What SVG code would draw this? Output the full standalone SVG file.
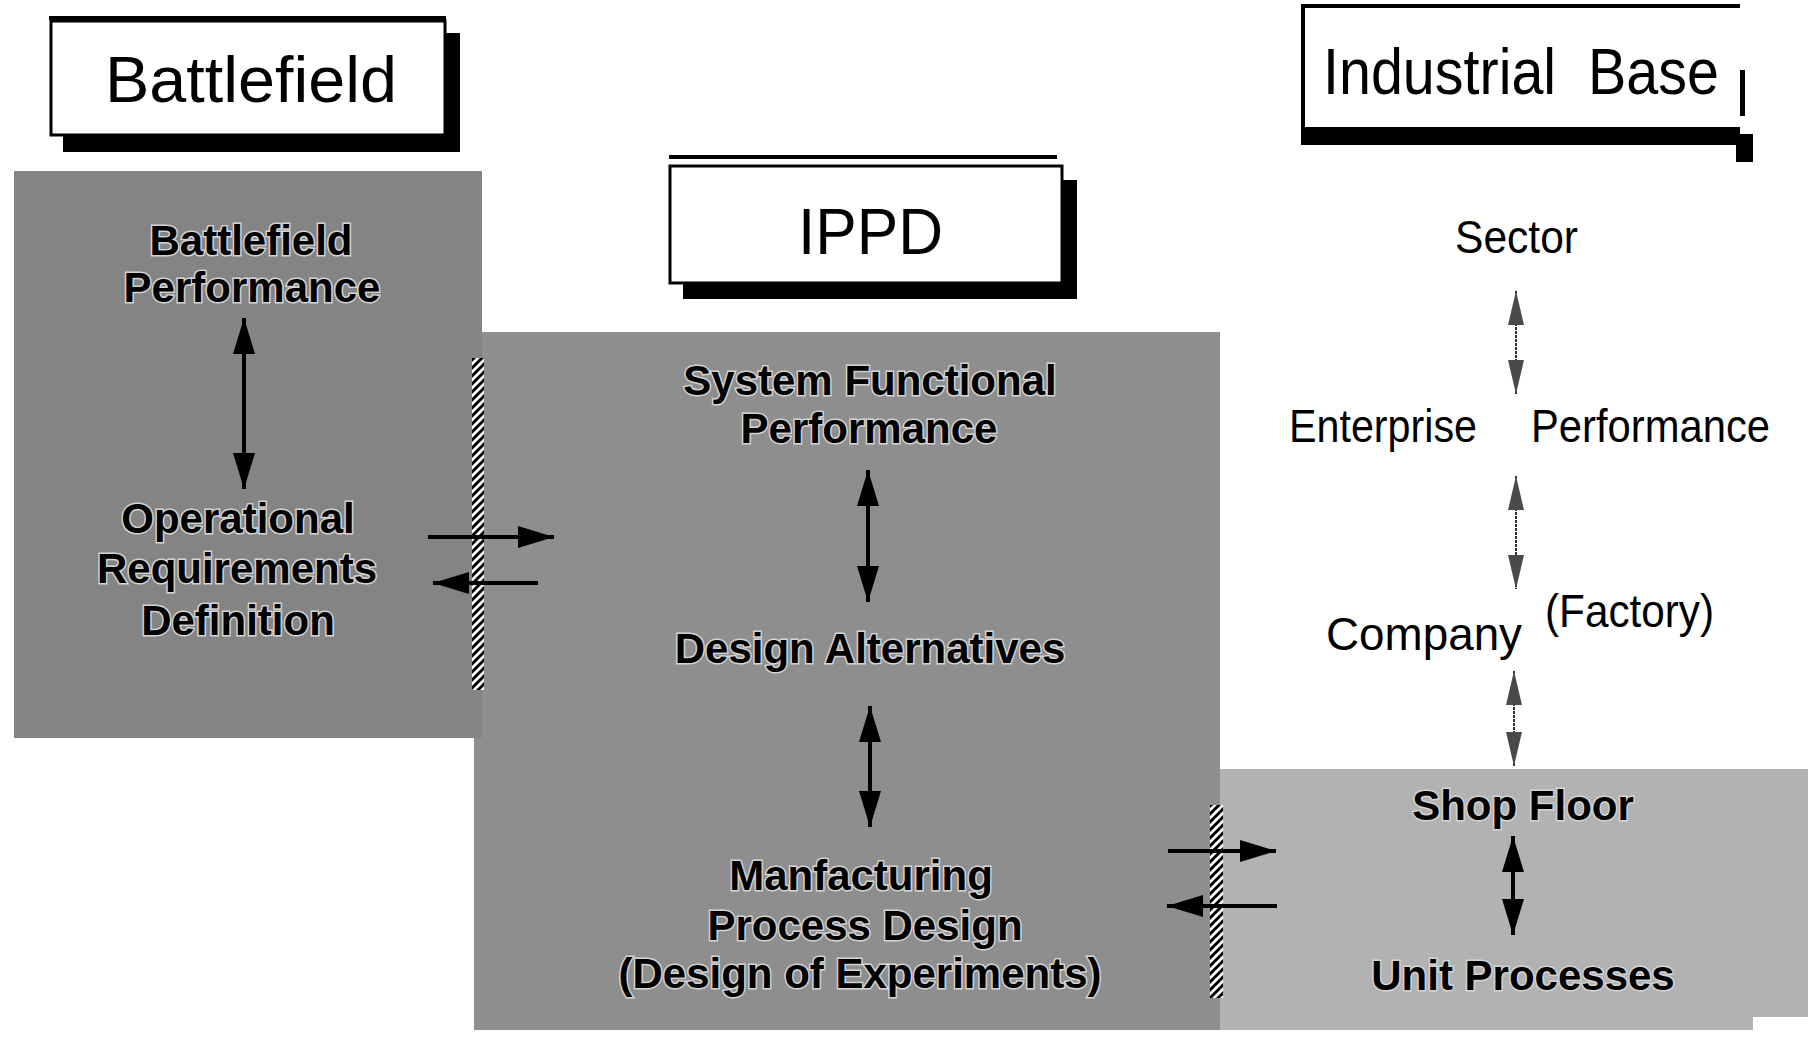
<svg xmlns="http://www.w3.org/2000/svg" width="1814" height="1039" viewBox="0 0 1814 1039">
<defs>
<style>
.t{font-family:"Liberation Sans",Arial,Helvetica,sans-serif;font-size:64px;fill:#000}
.g{font-family:"Liberation Sans",Arial,Helvetica,sans-serif;font-weight:bold;font-size:42px;text-anchor:middle;fill:#000;stroke:#d4d4d4;stroke-width:3;paint-order:stroke}
.r{font-family:"Liberation Sans",Arial,Helvetica,sans-serif;font-size:46px;fill:#000}
.sh{stroke:#000;stroke-width:4;fill:none}
.st{stroke:#333;stroke-width:2;fill:none;stroke-dasharray:3 1}
</style>
<pattern id="hatch" patternUnits="userSpaceOnUse" width="8" height="8">
<rect width="8" height="8" fill="#fff"/>
<path d="M-2,2 L2,-2 M0,8 L8,0 M6,10 L10,6" stroke="#000" stroke-width="3"/>
</pattern>
<marker id="ah" viewBox="0 0 36 22" refX="36" refY="11" markerWidth="36" markerHeight="22" markerUnits="userSpaceOnUse" orient="auto-start-reverse">
<path d="M0,0 L36,11 L0,22 Z" fill="#000"/>
</marker>
<marker id="ahs" viewBox="0 0 34 16" refX="34" refY="8" markerWidth="34" markerHeight="16" markerUnits="userSpaceOnUse" orient="auto-start-reverse">
<path d="M0,0 L34,8 L0,16 Z" fill="#4a4a4a"/>
</marker>
</defs>
<rect width="1814" height="1039" fill="#fff"/>

<g id="regions">
<rect id="region-battlefield" x="14" y="171" width="468" height="567" fill="#848484"/>
<path id="region-ippd" d="M482,332 H1220 V1030 H474 V738 H482 Z" fill="#8e8e8e"/>
<path id="region-industrial" d="M1220,769 H1808 V1017 H1753 V1030 H1220 Z" fill="#b2b2b2"/>
</g>

<g id="title-battlefield">
<rect x="63" y="33" width="397" height="119" fill="#000"/>
<rect x="51" y="21" width="394" height="114" fill="#fff" stroke="#000" stroke-width="3"/>
<line x1="49" y1="18" x2="446" y2="18" stroke="#000" stroke-width="4"/>
<text class="t" x="105" y="102" textLength="292" lengthAdjust="spacingAndGlyphs">Battlefield</text>
</g>

<g id="title-ippd">
<rect x="683" y="180" width="394" height="119" fill="#000"/>
<rect x="670" y="166" width="392" height="117" fill="#fff" stroke="#000" stroke-width="3"/>
<line x1="669" y1="157" x2="1057" y2="157" stroke="#000" stroke-width="4"/>
<text class="t" x="798" y="254" textLength="145" lengthAdjust="spacingAndGlyphs">IPPD</text>
</g>

<g id="title-industrial">
<rect x="1301" y="127" width="439" height="18" fill="#000"/>
<line x1="1303" y1="4" x2="1303" y2="138" stroke="#000" stroke-width="4"/>
<line x1="1301" y1="6" x2="1740" y2="6" stroke="#000" stroke-width="4"/>
<rect x="1740" y="70" width="5" height="46" fill="#000"/>
<rect x="1736" y="134" width="17" height="28" fill="#000"/>
<text class="t" x="1323" y="94" textLength="396" lengthAdjust="spacingAndGlyphs" xml:space="preserve">Industrial  Base</text>
</g>

<g id="barriers">
<rect id="barrier-left" x="472" y="358" width="12" height="332" fill="url(#hatch)"/>
<rect id="barrier-right" x="1210" y="805" width="13" height="193" fill="url(#hatch)"/>
</g>

<g id="connectors">
<line class="sh" x1="244" y1="318" x2="244" y2="489" marker-start="url(#ah)" marker-end="url(#ah)"/>
<line class="sh" x1="868" y1="470" x2="868" y2="602" marker-start="url(#ah)" marker-end="url(#ah)"/>
<line class="sh" x1="870" y1="706" x2="870" y2="827" marker-start="url(#ah)" marker-end="url(#ah)"/>
<line class="sh" x1="1513" y1="836" x2="1513" y2="935" marker-start="url(#ah)" marker-end="url(#ah)"/>
<line class="sh" x1="428" y1="537" x2="554" y2="537" marker-end="url(#ah)"/>
<line class="sh" x1="538" y1="583" x2="433" y2="583" marker-end="url(#ah)"/>
<line class="sh" x1="1168" y1="851" x2="1276" y2="851" marker-end="url(#ah)"/>
<line class="sh" x1="1277" y1="906" x2="1167" y2="906" marker-end="url(#ah)"/>
<line class="st" x1="1516" y1="291" x2="1516" y2="394" marker-start="url(#ahs)" marker-end="url(#ahs)"/>
<line class="st" x1="1516" y1="476" x2="1516" y2="589" marker-start="url(#ahs)" marker-end="url(#ahs)"/>
<line class="st" x1="1514" y1="671" x2="1514" y2="766" marker-start="url(#ahs)" marker-end="url(#ahs)"/>
</g>

<g id="node-battlefield-performance">
<text class="g" x="251" y="255">Battlefield</text>
<text class="g" x="252" y="302">Performance</text>
</g>
<g id="node-operational-requirements">
<text class="g" x="238" y="533">Operational</text>
<text class="g" x="237" y="583">Requirements</text>
<text class="g" x="238" y="635">Definition</text>
</g>
<g id="node-system-functional">
<text class="g" x="870" y="395">System Functional</text>
<text class="g" x="869" y="443">Performance</text>
</g>
<g id="node-design-alternatives">
<text class="g" x="870" y="663">Design Alternatives</text>
</g>
<g id="node-manufacturing">
<text class="g" x="861" y="890">Manfacturing</text>
<text class="g" x="865" y="940">Process Design</text>
<text class="g" x="860" y="988">(Design of Experiments)</text>
</g>
<g id="node-sector">
<text class="r" x="1455" y="253" textLength="123" lengthAdjust="spacingAndGlyphs">Sector</text>
</g>
<g id="node-enterprise">
<text class="r" x="1289" y="442" textLength="188" lengthAdjust="spacingAndGlyphs">Enterprise</text>
<text class="r" x="1531" y="442" textLength="239" lengthAdjust="spacingAndGlyphs">Performance</text>
</g>
<g id="node-company">
<text class="r" x="1326" y="650" textLength="196" lengthAdjust="spacingAndGlyphs">Company</text>
<text class="r" x="1545" y="627" textLength="169" lengthAdjust="spacingAndGlyphs">(Factory)</text>
</g>
<g id="node-shop-floor">
<text class="g" x="1523" y="820">Shop Floor</text>
</g>
<g id="node-unit-processes">
<text class="g" x="1523" y="990">Unit Processes</text>
</g>
</svg>
